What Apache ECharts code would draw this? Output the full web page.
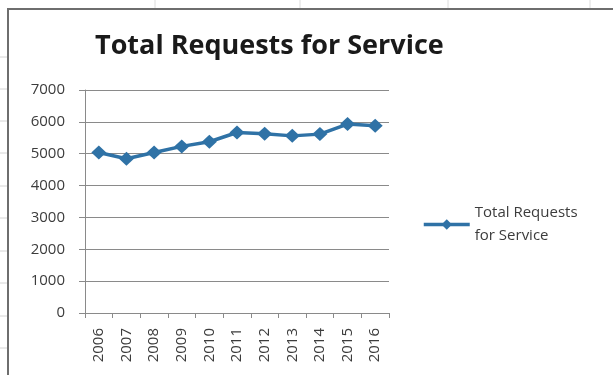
<!DOCTYPE html>
<html>
<head>
<meta charset="utf-8">
<script src="https://cdn.jsdelivr.net/npm/echarts@6/dist/echarts.min.js"></script>
<style>
  html, body { margin: 0; padding: 0; background: #fff; }
  #chart { width: 613px; height: 375px; }
</style>
</head>
<body>
<div id="chart"></div>
<script>
// Annual totals of service requests
const years = ['2006', '2007', '2008', '2009', '2010', '2011', '2012', '2013', '2014', '2015', '2016'];
const totalRequests = [5040, 4840, 5040, 5230, 5375, 5665, 5625, 5560, 5615, 5930, 5875];
const seriesName = 'Total Requests for Service';
const yTicks = { min: 0, max: 7000, step: 1000 };

const lineColor = '#2f72a6';
const axisGray = '#8a8a8a';
const textGray = '#3c3c3c';
const font = 'Open Sans';

// faint worksheet cell lines around the chart frame
const sheetLines = [];
[57, 89, 121, 153, 186, 218, 251, 283, 316, 348].forEach(y => {
  sheetLines.push({ type: 'line', shape: { x1: 0, y1: y, x2: 7, y2: y }, style: { stroke: '#d4d4d4', lineWidth: 1 }, silent: true });
});
[155, 300, 448, 590].forEach(x => {
  sheetLines.push({ type: 'line', shape: { x1: x, y1: 0, x2: x, y2: 8 }, style: { stroke: '#dcdcdc', lineWidth: 1 }, silent: true });
});

const chart = echarts.init(document.getElementById('chart'), null, { renderer: 'canvas' });
chart.setOption({
  animation: false,
  backgroundColor: '#fff',
  textStyle: { fontFamily: font },
  graphic: sheetLines.concat([
    { type: 'rect', shape: { x: 8, y: 9, width: 700, height: 420 },
      style: { fill: 'none', stroke: '#6e6e6e', lineWidth: 2 }, silent: true }
  ]),
  title: {
    text: seriesName,
    left: 95,
    top: 33,
    padding: 0,
    textStyle: { fontFamily: font, fontWeight: 'bold', fontSize: 27, color: '#1a1a1a' }
  },
  legend: {
    orient: 'vertical',
    left: 422,
    top: 190,
    padding: 0,
    itemWidth: 46,
    itemHeight: 13,
    itemGap: 0,
    lineStyle: { width: 3.5 },
    formatter: () => 'Total Requests\nfor Service',
    textStyle: { fontFamily: font, fontSize: 15, color: textGray, lineHeight: 23, padding: [23, 0, 0, 0] },
    data: [seriesName]
  },
  grid: { left: 85, right: 224, top: 90, bottom: 62 },
  xAxis: {
    type: 'category',
    data: years,
    boundaryGap: true,
    axisLine: { lineStyle: { color: axisGray, width: 1 } },
    axisTick: { show: true, length: 5, lineStyle: { color: axisGray } },
    axisLabel: { rotate: 90, margin: 15, fontSize: 15, color: textGray, fontFamily: font }
  },
  yAxis: {
    type: 'value',
    min: yTicks.min,
    max: yTicks.max,
    interval: yTicks.step,
    axisLine: { show: true, lineStyle: { color: axisGray, width: 1 } },
    axisTick: { show: true, length: 6, lineStyle: { color: axisGray } },
    splitLine: { show: true, lineStyle: { color: axisGray, width: 1 } },
    axisLabel: { margin: 20, fontSize: 15, color: textGray, fontFamily: font, formatter: v => String(v) }
  },
  series: [{
    name: seriesName,
    type: 'line',
    data: totalRequests,
    symbol: 'diamond',
    symbolSize: [15, 14],
    lineStyle: { color: lineColor, width: 3.5 },
    itemStyle: { color: lineColor }
  }]
});
</script>
</body>
</html>
